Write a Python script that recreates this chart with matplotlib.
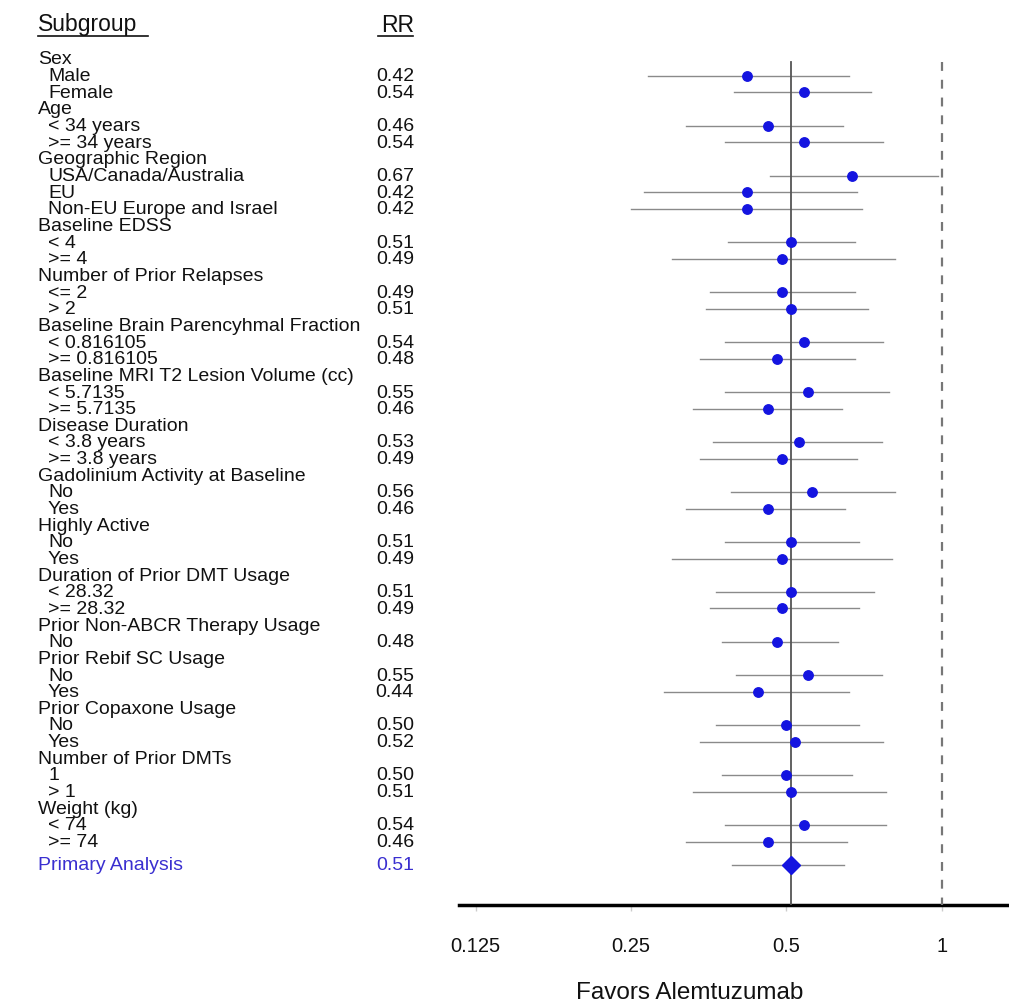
import matplotlib
matplotlib.use('Agg')
import matplotlib.pyplot as plt
from matplotlib.transforms import blended_transform_factory
from matplotlib.lines import Line2D

plt.rcParams['font.family'] = ['Liberation Sans', 'DejaVu Sans']

# rows of the table; headers have no RR
labels = [
    'Sex', 'Male', 'Female',
    'Age', '< 34 years', '>= 34 years',
    'Geographic Region', 'USA/Canada/Australia', 'EU', 'Non-EU Europe and Israel',
    'Baseline EDSS', '< 4', '>= 4',
    'Number of Prior Relapses', '<= 2', '> 2',
    'Baseline Brain Parencyhmal Fraction', '< 0.816105', '>= 0.816105',
    'Baseline MRI T2 Lesion Volume (cc)', '< 5.7135', '>= 5.7135',
    'Disease Duration', '< 3.8 years', '>= 3.8 years',
    'Gadolinium Activity at Baseline', 'No', 'Yes',
    'Highly Active', 'No', 'Yes',
    'Duration of Prior DMT Usage', '< 28.32', '>= 28.32',
    'Prior Non-ABCR Therapy Usage', 'No',
    'Prior Rebif SC Usage', 'No', 'Yes',
    'Prior Copaxone Usage', 'No', 'Yes',
    'Number of Prior DMTs', '1', '> 1',
    'Weight (kg)', '< 74', '>= 74',
]
rr = [
    None, 0.42, 0.54,
    None, 0.46, 0.54,
    None, 0.67, 0.42, 0.42,
    None, 0.51, 0.49,
    None, 0.49, 0.51,
    None, 0.54, 0.48,
    None, 0.55, 0.46,
    None, 0.53, 0.49,
    None, 0.56, 0.46,
    None, 0.51, 0.49,
    None, 0.51, 0.49,
    None, 0.48,
    None, 0.55, 0.44,
    None, 0.50, 0.52,
    None, 0.50, 0.51,
    None, 0.54, 0.46,
]
ci_low = [
    None, 0.27, 0.395,
    None, 0.32, 0.38,
    None, 0.465, 0.265, 0.25,
    None, 0.385, 0.30,
    None, 0.355, 0.35,
    None, 0.38, 0.34,
    None, 0.38, 0.33,
    None, 0.36, 0.34,
    None, 0.39, 0.32,
    None, 0.38, 0.30,
    None, 0.365, 0.355,
    None, 0.375,
    None, 0.40, 0.29,
    None, 0.365, 0.34,
    None, 0.375, 0.33,
    None, 0.38, 0.32,
]
ci_high = [
    None, 0.66, 0.73,
    None, 0.645, 0.77,
    None, 0.985, 0.685, 0.70,
    None, 0.68, 0.81,
    None, 0.68, 0.72,
    None, 0.77, 0.68,
    None, 0.79, 0.64,
    None, 0.765, 0.685,
    None, 0.81, 0.65,
    None, 0.69, 0.80,
    None, 0.74, 0.69,
    None, 0.63,
    None, 0.765, 0.66,
    None, 0.69, 0.77,
    None, 0.67, 0.78,
    None, 0.78, 0.655,
]
primary_label = 'Primary Analysis'
primary_rr = 0.51
primary_low = 0.393
primary_high = 0.646

xticks = [0.125, 0.25, 0.5, 1]
xtick_labels = ['0.125', '0.25', '0.5', '1']

W, H = 1009, 1003
fig = plt.figure(figsize=(W / 100, H / 100), dpi=100)

# axes placed in pixel geometry
ax_left, ax_right, ax_top, ax_bottom = 459, 1009, 40, 906
ax = fig.add_axes([ax_left / W, 1 - ax_bottom / H,
                   (ax_right - ax_left) / W, (ax_bottom - ax_top) / H])

row_px = 16.65
first_row_px = 60
ymin = (ax_top - first_row_px) / row_px
ymax = (ax_bottom - first_row_px) / row_px
ax.set_ylim(ymax, ymin)
ax.set_xscale('log', base=2)
ax.set_xlim(0.116, 1.35)

dot_color = '#1414e0'
line_color = '#8a8a8a'
blue_text = '#3a2fd0'
txt_color = '#111111'
fs = 14

rows = list(range(len(labels)))
primary_row = len(labels) + 0.4

for y, v, lo, hi in zip(rows, rr, ci_low, ci_high):
    if v is None:
        continue
    ax.plot([lo, hi], [y, y], color=line_color, lw=1.0, zorder=2)
    ax.plot(v, y, 'o', color=dot_color, ms=6.8, zorder=4)

ax.plot([primary_low, primary_high], [primary_row, primary_row],
        color=line_color, lw=1.0, zorder=2)
ax.plot(primary_rr, primary_row, 'D', color=dot_color, ms=9, zorder=4)

# reference lines
ax.plot([primary_rr, primary_rr], [0.2, ymax], color='#555555', lw=1.3, zorder=3)
ax.plot([1, 1], [0.2, ymax], color='#777777', lw=1.6, ls=(0, (4, 4)), zorder=3)

for s in ['top', 'right', 'left']:
    ax.spines[s].set_visible(False)
ax.spines['bottom'].set_linewidth(2.5)
ax.set_yticks([])
ax.set_xticks(xticks)
ax.set_xticklabels(xtick_labels)
ax.minorticks_off()
ax.tick_params(axis='x', length=4, width=1, color='#cccccc', pad=18, labelsize=14.5,
               labelcolor=txt_color)

# left-hand table
tr = blended_transform_factory(fig.transFigure, ax.transData)
for y, lab, v in zip(rows, labels, rr):
    x = 38 if v is None else 48
    ax.text(x / W, y, lab, transform=tr, ha='left', va='center',
            fontsize=fs, color=txt_color, clip_on=False)
    if v is not None:
        ax.text(414 / W, y, '%.2f' % v, transform=tr, ha='right', va='center',
                fontsize=fs, color=txt_color, clip_on=False)
ax.text(38 / W, primary_row, primary_label, transform=tr, ha='left', va='center',
        fontsize=fs, color=blue_text, clip_on=False)
ax.text(414 / W, primary_row, '%.2f' % primary_rr, transform=tr, ha='right',
        va='center', fontsize=fs, color=blue_text, clip_on=False)

# column headings, underlined
fig.text(38 / W, 1 - 25 / H, 'Subgroup', ha='left', va='center', fontsize=16.5,
         color=txt_color)
fig.text(414 / W, 1 - 25 / H, 'RR', ha='right', va='center', fontsize=16.5,
         color=txt_color)
fig.add_artist(Line2D([38 / W, 148 / W], [1 - 37 / H, 1 - 37 / H],
                      transform=fig.transFigure, color=txt_color, lw=1.2))
fig.add_artist(Line2D([378 / W, 413 / W], [1 - 37 / H, 1 - 37 / H],
                      transform=fig.transFigure, color=txt_color, lw=1.2))

fig.text(690 / W, 1 - 993 / H, 'Favors Alemtuzumab', ha='center', va='center',
         fontsize=17.5, color=txt_color)

fig.savefig('out.png', dpi=100)
